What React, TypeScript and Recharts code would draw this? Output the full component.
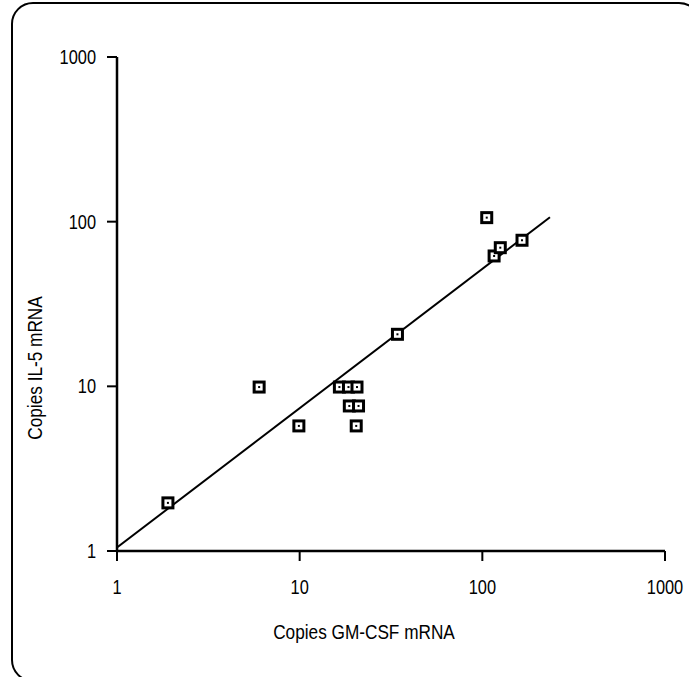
import React from 'react';
import { ScatterChart, Scatter, XAxis, YAxis, Label } from 'recharts';

// Copies of GM-CSF mRNA (x) and IL-5 mRNA (y) per sample
const gmCsf = [1.9, 6, 9.9, 16.5, 18.5, 20.6, 18.7, 21, 20.4, 34.3, 105.7, 116, 125.4, 164.9];
const il5 = [1.96, 9.9, 5.75, 9.9, 9.9, 9.9, 7.6, 7.6, 5.75, 20.7, 105.8, 61.9, 69.5, 77.1];

// regression line end points
const fitX = [1, 234.6];
const fitY = [1.05, 106.3];

const ticks = [1, 10, 100, 1000];

const xTitle = 'Copies GM-CSF mRNA';
const yTitle = 'Copies IL-5 mRNA';

const points = gmCsf.map((x, i) => ({ x, y: il5[i] }));
const fitLine = fitX.map((x, i) => ({ x, y: fitY[i] }));

const FONT = '"Liberation Sans", Arial, Helvetica, sans-serif';
const SQUEEZE = 0.82;

const Marker = (props: any) => {
  const { cx, cy } = props;
  if (cx == null || cy == null) return <g />;
  return (
    <g>
      <rect x={cx - 5} y={cy - 5} width={10} height={10} fill="#fff" stroke="#000" strokeWidth={3} />
      <rect x={cx - 1} y={cy - 1} width={2} height={2} fill="#000" />
    </g>
  );
};

const NoShape = () => <g />;

const XTick = (props: any) => {
  const { x, y, payload } = props;
  return (
    <g transform={`translate(${x},${y})`}>
      <text transform={`scale(${SQUEEZE},1)`} x={0} y={0} dy="0.71em" textAnchor="middle" fill="#000" fontSize={20} fontFamily={FONT}>
        {payload.value}
      </text>
    </g>
  );
};

const YTick = (props: any) => {
  const { x, y, payload } = props;
  return (
    <g transform={`translate(${x},${y})`}>
      <text transform={`scale(${SQUEEZE},1)`} x={0} y={0} dy="0.355em" textAnchor="end" fill="#000" fontSize={20} fontFamily={FONT}>
        {payload.value}
      </text>
    </g>
  );
};

const XTitle = (props: any) => {
  const vb = props.viewBox || { x: 0, y: 0, width: 0, height: 0 };
  const cx = vb.x + vb.width / 2 - 27;
  const cy = vb.y + 87.5;
  return (
    <text transform={`translate(${cx},${cy}) scale(${SQUEEZE},1)`} x={0} y={0} textAnchor="middle" fill="#000" fontSize={21} fontFamily={FONT}>
      {xTitle}
    </text>
  );
};

const YTitle = (props: any) => {
  const vb = props.viewBox || { x: 0, y: 0, width: 0, height: 0 };
  const cx = vb.x;
  const cy = vb.y + vb.height / 2 + 64;
  return (
    <text transform={`translate(${cx},${cy}) rotate(-90) scale(${SQUEEZE},1)`} x={0} y={0} textAnchor="middle" dominantBaseline="central" fill="#000" fontSize={21} fontFamily={FONT}>
      {yTitle}
    </text>
  );
};

export default function App() {
  return (
    <div style={{ position: 'absolute', left: 0, top: 0, width: 689, height: 677, background: '#fff', overflow: 'hidden' }}>
      <div
        style={{
          position: 'absolute',
          left: 11,
          top: 2,
          width: 690,
          height: 680,
          border: '2.5px solid #000',
          borderRadius: 22,
          boxSizing: 'border-box',
        }}
      />
      <div style={{ position: 'absolute', left: 0, top: 0 }}>
        <ScatterChart width={689} height={677} margin={{ top: 57, right: 24, left: 35, bottom: 66 }}>
          <XAxis
            type="number"
            dataKey="x"
            scale="log"
            domain={[1, 1000]}
            ticks={ticks}
            allowDataOverflow
            height={60}
            tickSize={10}
            tickMargin={19}
            axisLine={{ stroke: '#000', strokeWidth: 2.5 }}
            tickLine={{ stroke: '#000', strokeWidth: 2 }}
            tick={<XTick />}
            interval={0}
          >
            <Label content={<XTitle />} />
          </XAxis>
          <YAxis
            type="number"
            dataKey="y"
            scale="log"
            domain={[1, 1000]}
            ticks={ticks}
            allowDataOverflow
            width={82}
            tickSize={10}
            tickMargin={11}
            axisLine={{ stroke: '#000', strokeWidth: 2.5 }}
            tickLine={{ stroke: '#000', strokeWidth: 2 }}
            tick={<YTick />}
            interval={0}
          >
            <Label content={<YTitle />} />
          </YAxis>
          <Scatter
            data={fitLine}
            line={{ stroke: '#000', strokeWidth: 2 }}
            shape={<NoShape />}
            isAnimationActive={false}
          />
          <Scatter data={points} shape={<Marker />} isAnimationActive={false} />
        </ScatterChart>
      </div>
    </div>
  );
}
